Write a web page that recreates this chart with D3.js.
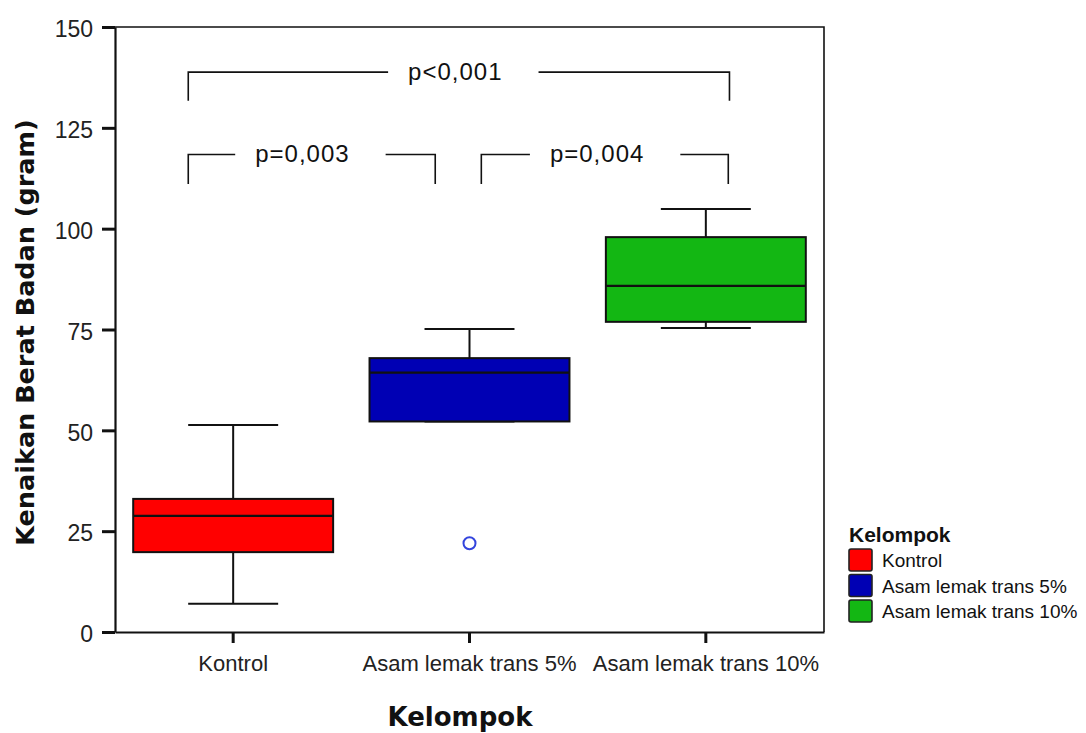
<!DOCTYPE html>
<html>
<head>
<meta charset="utf-8">
<script src="https://cdn.jsdelivr.net/npm/d3@7"></script>
<style>
  body { margin: 0; background: #fff; }
  svg { display: block; }
</style>
</head>
<body>
<div id="chart"></div>
<script>
// Chart data
var groups = ["Kontrol", "Asam lemak trans 5%", "Asam lemak trans 10%"];
var colors = ["#ff0000", "#0000b4", "#13b713"];
var whiskerLow = [7, 52.2, 75.4];
var q1 = [19.8, 52.2, 76.9];
var median = [28.8, 64.3, 85.8];
var q3 = [33, 67.9, 97.9];
var whiskerHigh = [51.3, 75.1, 104.9];
var outliers = [[], [22], []];
var yTicks = [0, 25, 50, 75, 100, 125, 150];

// significance brackets (x in group units, y in grams)
var bracketLabels = ["p<0,001", "p=0,003", "p=0,004"];
var bracketFrom = [-0.19, -0.19, 1.05];
var bracketTo = [2.1, 0.855, 2.095];
var bracketTop = [138.8, 118.4, 118.4];
var bracketFoot = [131.7, 111.1, 111.1];
var bracketLabelAt = [0.94, 0.293, 1.54];

// Chart Params
var svgWidth = 1086;
var svgHeight = 733;
var plot = { left: 115, right: 824, top: 27, bottom: 632 };

var svg = d3.select("#chart")
  .append("svg")
  .attr("width", svgWidth)
  .attr("height", svgHeight);

var xBand = d3.scaleBand()
  .domain(groups)
  .range([plot.left, plot.right]);

// same x range, in group-index units (for the brackets)
var xIdx = d3.scaleLinear()
  .domain([-0.5, groups.length - 0.5])
  .range([plot.left, plot.right]);

var y = d3.scaleLinear()
  .domain([0, 150])
  .range([plot.bottom, plot.top]);

var boxW = xBand.bandwidth() * 0.846;
var capW = boxW * 0.45;

// frame (top + right)
svg.append("path")
  .attr("d", `M${plot.left},${plot.top}H${plot.right}V${plot.bottom}`)
  .attr("fill", "none")
  .attr("stroke", "#111")
  .attr("stroke-width", 1.6);

// y axis
var yAxis = svg.append("g")
  .attr("transform", `translate(${plot.left},0)`)
  .call(d3.axisLeft(y).tickValues(yTicks).tickSize(13).tickSizeOuter(0).tickPadding(9));
yAxis.select(".domain").attr("stroke", "#111").attr("stroke-width", 2.2);
yAxis.selectAll(".tick line").attr("stroke", "#111").attr("stroke-width", 3);
yAxis.selectAll(".tick text")
  .attr("dy", "0.42em")
  .style("font-family", "'Liberation Sans', Arial, sans-serif")
  .style("font-size", "23px")
  .style("fill", "#222");

// x axis
var xAxis = svg.append("g")
  .attr("transform", `translate(0,${plot.bottom})`)
  .call(d3.axisBottom(xBand).tickSize(11).tickSizeOuter(0));
xAxis.select(".domain").attr("stroke", "#111").attr("stroke-width", 2.2);
xAxis.selectAll(".tick line").attr("stroke", "#111").attr("stroke-width", 3);
xAxis.selectAll(".tick text")
  .attr("y", 39)
  .attr("dy", 0)
  .style("font-family", "'Liberation Sans', Arial, sans-serif")
  .style("font-size", "22px")
  .style("fill", "#222");

// boxes
var boxes = svg.selectAll(".box").data(groups)
  .enter()
  .append("g")
  .attr("class", "box")
  .attr("transform", d => `translate(${xBand(d) + xBand.bandwidth() / 2},0)`);

// whiskers
boxes.append("line")
  .attr("x1", 0).attr("x2", 0)
  .attr("y1", (d, i) => y(q3[i]))
  .attr("y2", (d, i) => y(whiskerHigh[i]))
  .attr("stroke", "#111").attr("stroke-width", 2);
boxes.append("line")
  .attr("x1", 0).attr("x2", 0)
  .attr("y1", (d, i) => y(q1[i]))
  .attr("y2", (d, i) => y(whiskerLow[i]))
  .attr("stroke", "#111").attr("stroke-width", 2);
boxes.append("line")
  .attr("x1", -capW / 2).attr("x2", capW / 2)
  .attr("y1", (d, i) => y(whiskerHigh[i]))
  .attr("y2", (d, i) => y(whiskerHigh[i]))
  .attr("stroke", "#111").attr("stroke-width", 2);
boxes.append("line")
  .attr("x1", -capW / 2).attr("x2", capW / 2)
  .attr("y1", (d, i) => y(whiskerLow[i]))
  .attr("y2", (d, i) => y(whiskerLow[i]))
  .attr("stroke", "#111").attr("stroke-width", 2);

boxes.append("rect")
  .attr("x", -boxW / 2)
  .attr("width", boxW)
  .attr("y", (d, i) => y(q3[i]))
  .attr("height", (d, i) => y(q1[i]) - y(q3[i]))
  .attr("fill", (d, i) => colors[i])
  .attr("stroke", "#111")
  .attr("stroke-width", 2);

boxes.append("line")
  .attr("x1", -boxW / 2).attr("x2", boxW / 2)
  .attr("y1", (d, i) => y(median[i]))
  .attr("y2", (d, i) => y(median[i]))
  .attr("stroke", "#111").attr("stroke-width", 2.2);

// outliers
boxes.each(function(d, i) {
  d3.select(this).selectAll("circle").data(outliers[i])
    .enter()
    .append("circle")
    .attr("cx", 0)
    .attr("cy", v => y(v))
    .attr("r", 6)
    .attr("fill", "#fff")
    .attr("stroke", "#3344dd")
    .attr("stroke-width", 2);
});

// brackets
bracketLabels.forEach(function(label, i) {
  var g = svg.append("g");
  var x0 = xIdx(bracketFrom[i]);
  var x1 = xIdx(bracketTo[i]);
  var yt = y(bracketTop[i]);
  var yf = y(bracketFoot[i]);

  var txt = g.append("text")
    .attr("x", xIdx(bracketLabelAt[i]))
    .attr("y", yt + 7.5)
    .attr("text-anchor", "middle")
    .style("font-family", "'Liberation Sans', Arial, sans-serif")
    .style("font-size", "24px")
    .style("letter-spacing", "1px")
    .style("fill", "#111")
    .text(label);
  var bb = txt.node().getBBox();

  g.append("path")
    .attr("d", `M${x0},${yf}V${yt}H${bb.x - 20}M${bb.x + bb.width + 36},${yt}H${x1}V${yf}`)
    .attr("fill", "none")
    .attr("stroke", "#111")
    .attr("stroke-width", 1.6);
});

// axis titles
svg.append("text")
  .attr("transform", `translate(34, ${(plot.top + plot.bottom) / 2 + 3}) rotate(-90)`)
  .attr("text-anchor", "middle")
  .style("font-family", "'DejaVu Sans', Verdana, sans-serif")
  .style("font-weight", "bold")
  .style("font-size", "25.5px")
  .style("fill", "#111")
  .text("Kenaikan Berat Badan (gram)");

svg.append("text")
  .attr("x", 460)
  .attr("y", 726)
  .attr("text-anchor", "middle")
  .style("font-family", "'DejaVu Sans', Verdana, sans-serif")
  .style("font-weight", "bold")
  .style("font-size", "26px")
  .style("fill", "#111")
  .text("Kelompok");

// legend
var legend = svg.append("g").attr("transform", "translate(849, 549)");
legend.append("text")
  .attr("x", 0)
  .attr("y", -7)
  .style("font-family", "'Liberation Sans', Arial, sans-serif")
  .style("font-weight", "bold")
  .style("font-size", "21px")
  .style("fill", "#111")
  .text("Kelompok");

var items = legend.selectAll(".item").data(groups)
  .enter()
  .append("g")
  .attr("class", "item")
  .attr("transform", (d, i) => `translate(0, ${i * 25.5})`);
items.append("rect")
  .attr("width", 23)
  .attr("height", 22)
  .attr("rx", 2)
  .attr("fill", (d, i) => colors[i])
  .attr("stroke", "#222")
  .attr("stroke-width", 1.6);
items.append("text")
  .attr("x", 33)
  .attr("y", 18)
  .style("font-family", "'Liberation Sans', Arial, sans-serif")
  .style("font-size", "19px")
  .style("fill", "#111")
  .text(d => d);
</script>
</body>
</html>
